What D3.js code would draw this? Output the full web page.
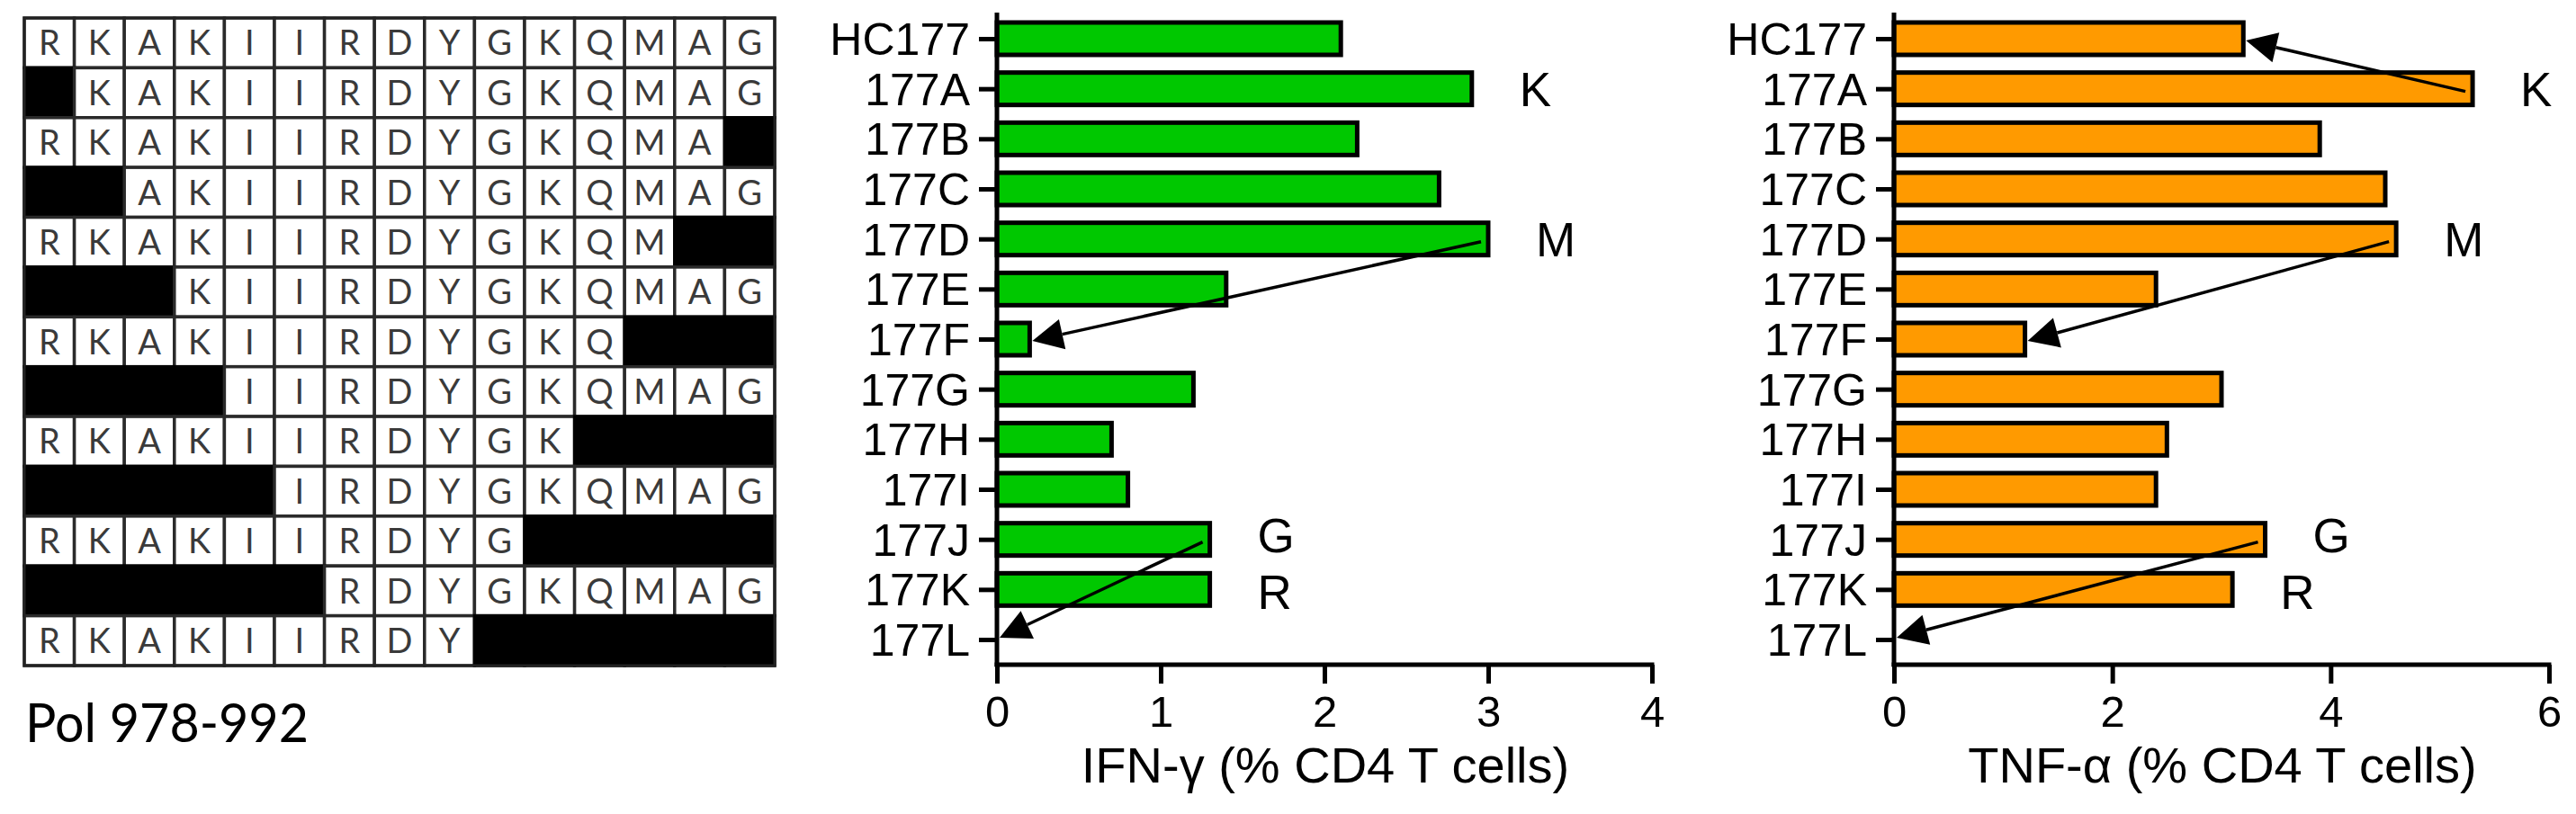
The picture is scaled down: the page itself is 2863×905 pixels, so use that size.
<!DOCTYPE html>
<html>
<head>
<meta charset="utf-8">
<script src="https://cdn.jsdelivr.net/npm/d3@7"></script>
<style>
  html, body { margin: 0; padding: 0; background: #fff; }
  svg { display: block; }
</style>
</head>
<body>
<svg id="chart" width="2863" height="905"></svg>
<script>
// ---------------- DATA ----------------
const sequence = ["R","K","A","K","I","I","R","D","Y","G","K","Q","M","A","G"];
const categories = ["HC177","177A","177B","177C","177D","177E","177F","177G","177H","177I","177J","177K","177L"];
// residues [start, end) present in each peptide (rest blacked out)
const peptideStart = [0,1,0,2,0,3,0,4,0,5,0,6,0];
const peptideEnd   = [15,15,14,15,13,15,12,15,11,15,10,15,9];
const ifnValues = [2.1,2.9,2.2,2.7,3.0,1.4,0.2,1.2,0.7,0.8,1.3,1.3,0];
const tnfValues = [3.2,5.3,3.9,4.5,4.6,2.4,1.2,3.0,2.5,2.4,3.4,3.1,0];
const ifnTicks = [0,1,2,3,4];
const tnfTicks = [0,2,4,6];
const ifnArrows = [["177D","177F"],["177J","177L"]];
const tnfArrows = [["177A","HC177"],["177D","177F"],["177J","177L"]];
const annotCats = ["177A","177D","177J","177K"];
const annotLabels = ["K","M","G","R"];
const peptideTitle = "Pol 978-992";
const ifnTitle = "IFN-\u03B3 (% CD4 T cells)";
const tnfTitle = "TNF-\u03B1 (% CD4 T cells)";

// ---------------- DRAW ----------------
const svg = d3.select("#chart");
svg.append("rect").attr("width",2863).attr("height",905).attr("fill","#fff");

// ---- peptide grid ----
const colScale = d3.scaleBand().domain(d3.range(sequence.length)).range([27, 861]);
const rowScale = d3.scaleBand().domain(d3.range(categories.length)).range([20, 740]);
const grid = svg.append("g");
const cells = [];
categories.forEach((c, r) => {
  sequence.forEach((s, i) => {
    const on = i >= peptideStart[r] && i < peptideEnd[r];
    cells.push({r, i, s, on});
  });
});
grid.selectAll("rect.cell").data(cells).enter().append("rect")
  .attr("class","cell")
  .attr("x", d => colScale(d.i))
  .attr("y", d => rowScale(d.r))
  .attr("width", colScale.bandwidth())
  .attr("height", rowScale.bandwidth())
  .attr("fill", d => d.on ? "#fff" : "#000")
  .attr("stroke", d => d.on ? "#2a2a2a" : "#000")
  .attr("stroke-width", 3.5);
grid.selectAll("text.res").data(cells.filter(d => d.on)).enter().append("text")
  .attr("class","res")
  .attr("x", d => colScale(d.i) + colScale.bandwidth()/2)
  .attr("y", d => rowScale(d.r) + rowScale.bandwidth()/2)
  .attr("dy","0.36em")
  .attr("text-anchor","middle")
  .attr("font-family","Lato, 'Open Sans', sans-serif")
  .attr("font-size", 38)
  .attr("fill","#3a3a3a")
  .text(d => d.s);
grid.append("rect")
  .attr("x", 27).attr("y", 20).attr("width", 834).attr("height", 720)
  .attr("fill","none").attr("stroke","#222").attr("stroke-width",3);
svg.append("text")
  .attr("x", 28).attr("y", 825)
  .attr("font-family","Lato, 'Open Sans', sans-serif")
  .attr("font-size", 60)
  .attr("textLength", 315).attr("lengthAdjust","spacingAndGlyphs")
  .attr("fill","#000")
  .text(peptideTitle);

// ---- bar panels ----
const FONT = "'Liberation Sans', Arial, Helvetica, sans-serif";
const annotShift = [0, 0, -5, 3];
function panel(values, ticks, xRange, color, arrows, title, titleX) {
  const x = d3.scaleLinear().domain([0, ticks[ticks.length-1]]).range(xRange);
  const y = d3.scalePoint().domain(categories).range([43, 711]);
  const g = svg.append("g");
  const barH = 36;
  const data = categories.map((c,i) => ({c, v: values[i]}));

  g.selectAll("rect.bar").data(data.filter(d => d.v > 0)).enter().append("rect")
    .attr("class","bar")
    .attr("x", x(0))
    .attr("y", d => y(d.c) - barH/2)
    .attr("width", d => x(d.v) - x(0))
    .attr("height", barH)
    .attr("fill", color)
    .attr("stroke", "#000")
    .attr("stroke-width", 5);

  // y axis
  const yAxis = g.append("g").attr("transform", `translate(${x(0)},0)`)
    .call(d3.axisLeft(y).tickSize(20).tickPadding(10).tickSizeOuter(0));
  yAxis.select(".domain").remove();
  yAxis.selectAll(".tick line").attr("stroke","#000").attr("stroke-width",5);
  yAxis.selectAll(".tick text").attr("font-family",FONT).attr("font-size",50)
    .attr("fill","#000").attr("dy","0.35em");
  g.append("line").attr("x1",x(0)).attr("x2",x(0)).attr("y1",14).attr("y2",741)
    .attr("stroke","#000").attr("stroke-width",5);

  // x axis
  const xAxis = g.append("g").attr("transform","translate(0,739)")
    .call(d3.axisBottom(x).tickValues(ticks).tickFormat(d3.format("d")).tickSize(21).tickPadding(13).tickSizeOuter(0));
  xAxis.select(".domain").remove();
  xAxis.selectAll(".tick line").attr("stroke","#000").attr("stroke-width",5);
  xAxis.selectAll(".tick text").attr("font-family",FONT).attr("font-size",49).attr("fill","#000");
  g.append("line").attr("x1",x(0)-2.5).attr("x2",xRange[1]+2.5).attr("y1",739).attr("y2",739)
    .attr("stroke","#000").attr("stroke-width",5);

  g.append("text").attr("x", titleX).attr("y", 870)
    .attr("text-anchor","middle").attr("font-family",FONT).attr("font-size",56)
    .attr("fill","#000").text(title);

  // annotations
  annotCats.forEach((c,i) => {
    const v = values[categories.indexOf(c)];
    g.append("text").attr("x", x(v) + 53).attr("y", y(c) + annotShift[i])
      .attr("dy","0.36em").attr("font-family",FONT).attr("font-size",53)
      .attr("fill","#000").text(annotLabels[i]);
  });

  // arrows
  arrows.forEach(([from, to]) => {
    const vf = values[categories.indexOf(from)];
    const vt = values[categories.indexOf(to)];
    const x1 = x(vf) - 8, y1 = y(from) + 3;
    const x2 = x(vt) + 3, y2 = y(to) + (to === "177L" ? -2 : 2);
    const ang = Math.atan2(y2 - y1, x2 - x1);
    const L = 34, W = 17;
    const bx = x2 - L*Math.cos(ang), by = y2 - L*Math.sin(ang);
    g.append("line").attr("x1",x1).attr("y1",y1).attr("x2",bx).attr("y2",by)
      .attr("stroke","#000").attr("stroke-width",3.5);
    const px = -Math.sin(ang), py = Math.cos(ang);
    g.append("path")
      .attr("d", `M${x2},${y2}L${bx + W*px},${by + W*py}L${bx - W*px},${by - W*py}Z`)
      .attr("fill","#000");
  });
}

panel(ifnValues, ifnTicks, [1108, 1836], "#00C800", ifnArrows, ifnTitle, 1473);
panel(tnfValues, tnfTicks, [2105, 2833], "#FF9A00", tnfArrows, tnfTitle, 2470);
</script>
</body>
</html>
